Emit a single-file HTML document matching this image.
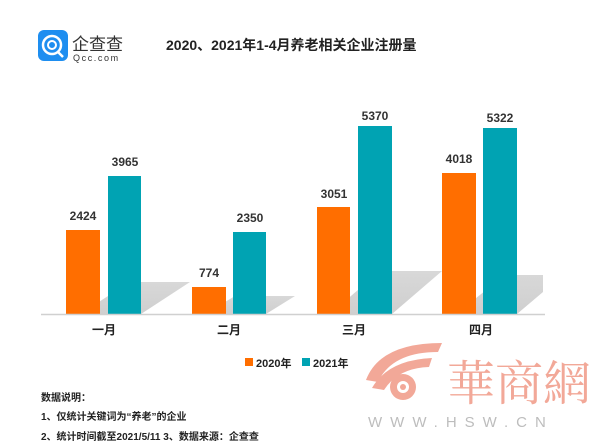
<!DOCTYPE html>
<html><head><meta charset="utf-8"><style>
html,body{margin:0;padding:0;background:#fff;}
body{width:601px;height:447px;overflow:hidden;position:relative;font-family:"Liberation Sans","Noto Sans CJK SC",sans-serif;}
</style></head><body>
<svg width="601" height="447" viewBox="0 0 601 447" xmlns="http://www.w3.org/2000/svg" style="position:absolute;left:0;top:0" font-family="Liberation Sans, Noto Sans CJK SC, sans-serif">
<defs>
<linearGradient id="sh" x1="0" y1="1" x2="0" y2="0"><stop offset="0" stop-color="#cfcfcf"/><stop offset="1" stop-color="#d8d8d8"/></linearGradient>
</defs>
<rect x="38" y="30" width="30" height="31" rx="6" fill="#1e8ef0"/>
<circle cx="52" cy="45" r="9" fill="none" stroke="#fff" stroke-width="2.5"/>
<circle cx="52" cy="45" r="4" fill="none" stroke="#fff" stroke-width="2"/>
<line x1="58" y1="52" x2="63" y2="57" stroke="#fff" stroke-width="2.5"/>
<text x="72" y="50" font-size="17" fill="#333">企查查</text>
<text x="73" y="61" font-size="9" fill="#333" letter-spacing="1.6">Qcc.com</text>
<text x="166" y="50" font-size="14" font-weight="bold" fill="#222">2020、2021年1-4月养老相关企业注册量</text>
<polygon points="80,314 141,314 190,282 130,282" fill="url(#sh)"/>
<polygon points="205,314 266,314 295,296 235,296" fill="url(#sh)"/>
<polygon points="330,314 392,314 442,271 380,271" fill="url(#sh)"/>
<polygon points="456,314 517,314 543,292 543,275 505,275" fill="url(#sh)"/>
<g fill="#ff6e00">
<rect x="66" y="230" width="34" height="84"/>
<rect x="192" y="287" width="34" height="27"/>
<rect x="317" y="207" width="33" height="107"/>
<rect x="442" y="173" width="34" height="141"/>
</g>
<g fill="#00a3b3">
<rect x="108" y="176" width="33" height="138"/>
<rect x="233" y="232" width="33" height="82"/>
<rect x="358" y="126" width="34" height="188"/>
<rect x="483" y="128" width="34" height="186"/>
</g>
<line x1="41" y1="314.5" x2="545" y2="314.5" stroke="#d0d0d0" stroke-width="1.5"/>
<g font-size="12" font-weight="bold" fill="#333" text-anchor="middle">
<text x="83" y="220">2424</text>
<text x="125" y="166">3965</text>
<text x="209" y="277">774</text>
<text x="250" y="222">2350</text>
<text x="334" y="198">3051</text>
<text x="375" y="120">5370</text>
<text x="459" y="163">4018</text>
<text x="500" y="122">5322</text>
</g>
<g font-size="12" font-weight="bold" fill="#222" text-anchor="middle">
<text x="104" y="334">一月</text>
<text x="229" y="334">二月</text>
<text x="354" y="334">三月</text>
<text x="481" y="334">四月</text>
</g>
<rect x="245" y="358" width="8" height="8" fill="#ff6e00"/>
<text x="256" y="367" font-size="11" font-weight="bold" fill="#222">2020年</text>
<rect x="302" y="358" width="8" height="8" fill="#00a3b3"/>
<text x="313" y="367" font-size="11" font-weight="bold" fill="#222">2021年</text>
<g font-size="10" font-weight="bold" fill="#222">
<text x="41" y="401">数据说明：</text>
<text x="41" y="420">1、仅统计关键词为“养老”的企业</text>
<text x="41" y="440">2、统计时间截至2021/5/11  3、数据来源：企查查</text>
</g>
<g fill="#f2a898">
<path d="M366,380 Q380,343 442,343 L438,352 Q392,352 378,382 Z"/>
<path d="M372,388 Q388,360 432,358 L429,367 Q398,368 384,390 Z"/>
<circle cx="403" cy="387" r="13"/>
</g>
<circle cx="403" cy="387" r="6" fill="#fff"/>
<circle cx="403" cy="387" r="3" fill="#f2a898"/>
<text x="447" y="400" font-size="48" fill="#f2a898" font-family="Noto Serif CJK SC, serif">華商網</text>
<text x="368" y="427" font-size="15" fill="#bdbdbd" letter-spacing="8">WWW.HSW.CN</text>
</svg>
</body></html>
